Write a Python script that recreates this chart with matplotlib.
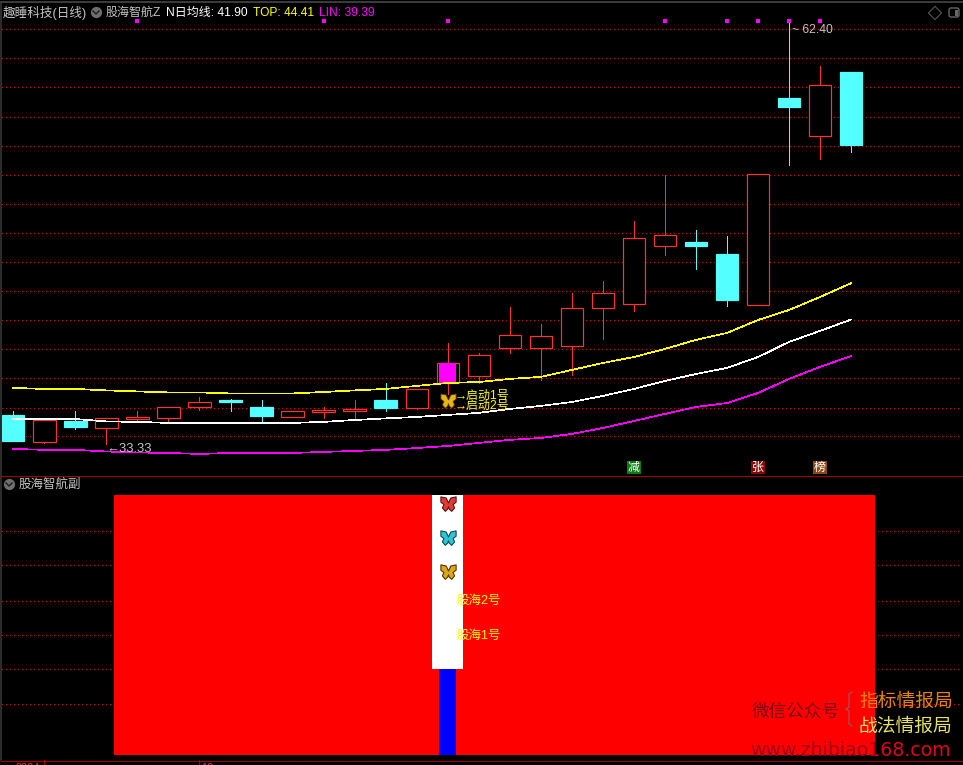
import matplotlib
matplotlib.use("Agg")
import matplotlib.pyplot as plt
from matplotlib.path import Path
from matplotlib.patches import Rectangle, FancyBboxPatch

plt.rcParams['font.family'] = ['Liberation Sans', 'Noto Sans CJK SC', 'DejaVu Sans']

# ---------- data ----------
opens = [35.33, 33.47, 34.91, 34.43, 35.05, 35.12, 35.88, 36.36, 35.88, 35.19, 35.53, 35.60, 36.36, 35.81,
         37.53, 38.02, 39.94, 39.94, 40.08, 42.70, 42.98, 46.97, 47.25, 46.42, 42.91, 57.17, 54.55, 58.96]
closes = [33.54, 34.98, 34.50, 35.12, 35.19, 35.88, 36.22, 36.22, 35.26, 35.60, 35.67, 35.74, 35.81, 37.12,
          38.91, 39.46, 40.84, 40.77, 42.70, 43.73, 47.52, 47.73, 46.97, 43.25, 51.93, 56.55, 58.07, 53.93]
highs = [35.60, 34.98, 35.60, 35.12, 35.60, 35.88, 36.57, 36.43, 36.36, 35.60, 35.88, 36.36, 37.53, 37.12,
         40.29, 39.60, 42.77, 41.60, 43.73, 44.56, 48.69, 51.86, 48.07, 47.66, 51.93, 62.40, 59.37, 58.96]
lows = [33.54, 33.40, 34.36, 33.33, 34.98, 34.85, 35.67, 35.60, 34.91, 35.19, 35.12, 34.98, 35.60, 35.74,
        36.78, 37.53, 39.60, 37.74, 38.08, 40.56, 42.49, 46.35, 45.39, 42.84, 42.91, 52.55, 52.97, 53.45]
n_line = [35.05, 35.05, 35.05, 34.88, 34.85, 34.78, 34.78, 34.78, 34.78, 34.78, 34.85, 34.98, 35.09, 35.19,
          35.33, 35.47, 35.74, 35.95, 36.22, 36.64, 37.12, 37.67, 38.15, 38.57, 39.32, 40.36, 41.12, 41.90]
top_line = [37.19, 37.12, 37.12, 37.02, 36.95, 36.88, 36.88, 36.81, 36.81, 36.81, 36.91, 37.02, 37.12, 37.33,
            37.53, 37.60, 37.81, 37.95, 38.43, 38.91, 39.32, 39.88, 40.50, 40.98, 41.87, 42.56, 43.46, 44.41]
lin_line = [32.99, 32.92, 32.92, 32.81, 32.74, 32.71, 32.64, 32.71, 32.71, 32.71, 32.78, 32.85, 32.92, 33.05,
            33.19, 33.40, 33.61, 33.74, 34.02, 34.43, 34.91, 35.40, 35.88, 36.15, 36.84, 37.81, 38.64, 39.39]
price_grid = [61.92, 59.92, 57.91, 55.87, 53.87, 51.87, 49.87, 47.87, 45.87, 43.87, 41.87, 39.87, 37.87, 35.81, 33.88]
dot_idx = [4, 10, 14, 21, 23, 24, 25, 26]
dot_price = 62.47
signal_idx = 14
signal_fly_price = 36.29
badges = [(20, '减', '#0a7d12'), (24, '张', '#8a0808'), (26, '榜', '#8a4a12')]
ref_low, ref_high = 33.33, 62.40
ref_low_idx, ref_high_idx = 3, 25

sub_left, sub_right = 3.24, 27.76
sub_red = 100
white_bottom, white_top = 33, 100
blue_top = 33
sub_grid = [86.3, 73, 59.4, 46, 33, 19.6]
fly_levels = [96.5, 83.5, 70.4]
fly_colors = [('#e23a34', '#5a1210'), ('#2cc6d4', '#0e4a52'), ('#e0a616', '#523600')]
label_levels = [(60, '股海2号'), (46.5, '股海1号')]

# ---------- helpers ----------
W, H, DPI = 963, 765, 100
BASE, STEP = 13.3, 31.03
fig = plt.figure(figsize=(W / DPI, H / DPI), dpi=DPI, facecolor='black')


def panel(y0, y1):
    ax = fig.add_axes([0, 1 - y1 / H, 1, (y1 - y0) / H], facecolor='none')
    ax.set_axis_off()
    ax.set_xlim(-BASE / STEP, (W - BASE) / STEP)
    return ax


PX = 72 / DPI
RED, CYAN = '#ff3232', '#54ffff'
GRID = '#c80000'
GRAY = '#c4c4c4'
YELLOW = '#ffff00'
MAG = '#ff00ff'
GX0, GX1 = (2 - BASE) / STEP, (960 - BASE) / STEP

fly = Path(
    [(0, 0.2), (0.3, 0.85), (1.0, 1.0), (1.0, 0.3), (0.6, 0.0), (0.8, -0.45), (0.42, -0.9), (0.1, -0.6), (0, -0.3),
     (-0.1, -0.6), (-0.42, -0.9), (-0.8, -0.45), (-0.6, 0.0), (-1.0, 0.3), (-1.0, 1.0), (-0.3, 0.85), (0, 0.2)],
    closed=True)

# ---------- main panel ----------
ax = panel(0, 475)
ax.set_ylim(31.19, 63.92)
ax.hlines(price_grid, GX0, GX1, colors=GRID, lw=PX, linestyles=[(0, (1, 3))], zorder=1, antialiased=False)
for i, (o, c, h, l) in enumerate(zip(opens, closes, highs, lows)):
    up = c >= o
    col = RED if up else CYAN
    ax.vlines(i, l, h, colors=col, lw=PX, zorder=2, antialiased=False)
    ax.bar(i, abs(c - o), bottom=min(o, c), width=0.72,
           facecolor='black' if up else col, edgecolor=col, lw=PX * 1.2, zorder=3)
ax.bar(signal_idx, abs(closes[signal_idx] - opens[signal_idx]), bottom=opens[signal_idx], width=0.55,
       color=MAG, lw=0, zorder=4)
xs = list(range(len(n_line)))
for vals, col in ((top_line, YELLOW), (n_line, 'white'), (lin_line, MAG)):
    ax.plot(xs, vals, color=col, lw=PX * 0.7, zorder=5, antialiased=False)
ax.scatter(dot_idx, [dot_price] * len(dot_idx), marker='s', s=5, color=MAG, lw=0, zorder=6)

ax.annotate('←33.33', xy=(ref_low_idx, ref_low), xytext=(0, -5), textcoords='offset pixels',
            color=GRAY, fontsize=13 * PX, ha='left', va='center', zorder=7)
ax.annotate('~ 62.40', xy=(ref_high_idx, ref_high), xytext=(3, -8), textcoords='offset pixels',
            color=GRAY, fontsize=12.2 * PX, ha='left', va='center', zorder=7)
ax.scatter([signal_idx], [signal_fly_price], marker=fly, s=120, facecolor='#e8b418', edgecolor='#523600',
           lw=0.6, zorder=7)
ax.annotate('→启动1号', xy=(signal_idx, closes[signal_idx]), xytext=(7, -33), textcoords='offset pixels',
            color=YELLOW, fontsize=12 * PX, ha='left', va='center', zorder=8)
ax.annotate('→启动2号', xy=(signal_idx, closes[signal_idx]), xytext=(7, -43), textcoords='offset pixels',
            color=YELLOW, fontsize=12 * PX, ha='left', va='center', zorder=8)
for i, s, col in badges:
    ax.text(i, 7.5 / 475, s, color='white', fontsize=12 * PX, ha='center', va='center',
            transform=ax.get_xaxis_transform(), zorder=8,
            bbox=dict(boxstyle='square,pad=0.08', fc=col, ec='none'))

# ---------- sub panel ----------
sx = panel(476, 760)
sx.set_ylim(-1.92, 107.3)
sx.hlines(sub_grid, GX0, GX1, colors=GRID, lw=PX, linestyles=[(0, (1, 3))], zorder=1, antialiased=False)
sx.bar(sub_left, sub_red, width=sub_right - sub_left, align='edge', color='#ff0000', lw=0, zorder=2)
sx.bar(signal_idx, white_top - white_bottom, bottom=white_bottom, width=1.0, color='white', lw=0, zorder=3)
sx.bar(signal_idx, blue_top, width=0.55, color='#0000ff', lw=0, zorder=3)
for lv, (fc, ec) in zip(fly_levels, fly_colors):
    sx.scatter([signal_idx], [lv], marker=fly, s=120, facecolor=fc, edgecolor=ec, lw=0.8, zorder=4)
for lv, s in label_levels:
    sx.annotate(s, xy=(signal_idx, lv), xytext=(9, -2), textcoords='offset pixels', color=YELLOW,
                fontsize=12.5 * PX, ha='left', va='center', zorder=5)

# ---------- chrome overlay ----------
ov = fig.add_axes([0, 0, 1, 1], facecolor='none')
ov.set_axis_off()
ov.set_xlim(0, W)
ov.set_ylim(H, 0)
ov.plot([0, W], [2, 2], color='#3a3a3a', lw=PX * 2)
ov.plot([0.5, 0.5], [2, 760], color='#3a3a3a', lw=PX * 1.5)
ov.plot([1, W], [475.5, 475.5], color='#a80000', lw=PX)
ov.plot([1, W], [760.5, 760.5], color='#a80000', lw=PX)
ov.plot([43.5, 43.5], [760, 765], color='#a80000', lw=PX)
ov.plot([198.5, 198.5], [760, 765], color='#a80000', lw=PX)

hdr = [(3, '趣睡科技(日线)', GRAY, 12.6), (106, '股海智航Z', GRAY, 12), (166, 'N日均线: 41.90', 'white', 12),
       (253, 'TOP: 44.41', YELLOW, 12), (319, 'LIN: 39.39', MAG, 12)]
for x, s, col, fs in hdr:
    ov.text(x, 13, s, color=col, fontsize=fs * PX, ha='left', va='center')
ov.text(19, 485, '股海智航副', color=GRAY, fontsize=12.5 * PX, ha='left', va='center')
for cx, cy in ((96, 12), (9, 484)):
    ov.scatter([cx], [cy], s=65, color='#6e6e6e', lw=0)
    ov.plot([cx - 3, cx, cx + 3], [cy - 1, cy + 2, cy - 1], color='#1e1e1e', lw=PX * 1.4)
ov.scatter([935], [13], marker='D', s=45, facecolor='none', edgecolor='#555555', lw=0.8)
ov.add_patch(FancyBboxPatch((949, 8), 10, 9, boxstyle='round,pad=0,rounding_size=2', fc='none', ec='#666666', lw=1))
ov.add_patch(Rectangle((955, 9.5), 3, 6, fc='#666666', ec='none'))

# watermark
ov.text(752, 712, '微信公众号', color='#7c0010', fontsize=17.6 * PX, ha='left', va='center')
ov.plot([852, 849, 849, 846, 849, 849, 852], [692, 694, 707, 709, 711, 724, 726], color='#9a6060', lw=PX)
ov.text(859, 702, '指标情报局', color='#e88400', fontsize=18.8 * PX, ha='left', va='center')
ov.text(859, 727.5, '战法情报局', color='#e6e060', fontsize=18.8 * PX, ha='left', va='center')
url = 'www.zhibiao168.com'
for col, box in (('#a00018', (0, 875)), ('#e0001e', (875, W))):
    t = ov.text(750, 750, url, color=col, fontsize=18.9 * PX, ha='left', va='center', family='DejaVu Sans')
    t.set_clip_path(Rectangle((box[0], 730), box[1] - box[0], 30, transform=ov.transData))
    t.set_clip_on(True)

# cut-off labels of the date axis along the bottom edge
ov.text(15, 763, '2024', color='#ff3232', fontsize=11 * PX, ha='left', va='top')
ov.text(201, 763, '10', color='#ff3232', fontsize=11 * PX, ha='left', va='top')

fig.savefig('out.png', dpi=DPI, facecolor='black')
